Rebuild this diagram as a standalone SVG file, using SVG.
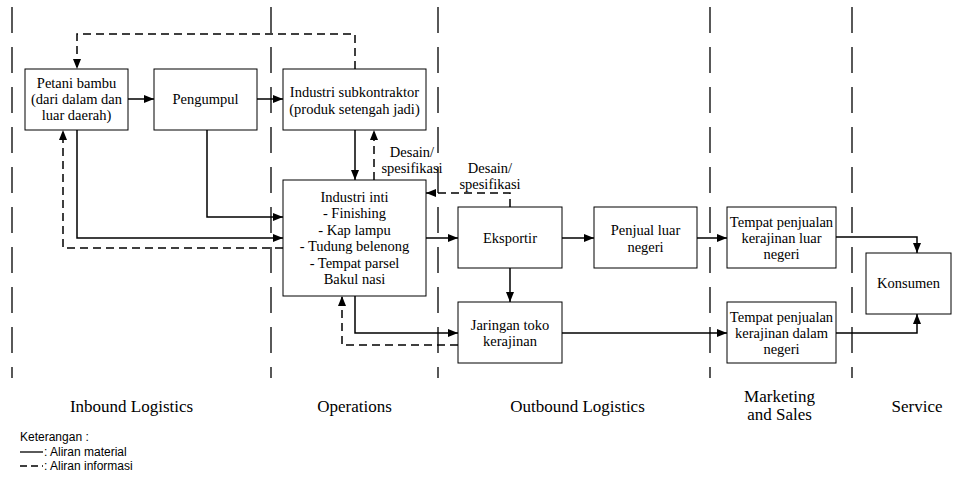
<svg xmlns="http://www.w3.org/2000/svg" width="958" height="479" viewBox="0 0 958 479">
<style>
.box{fill:#fff;stroke:#000;stroke-width:1}
.t{font-family:"Liberation Serif","Times New Roman",serif;font-size:14.5px;fill:#000;text-anchor:middle}
.lbl{font-family:"Liberation Serif","Times New Roman",serif;font-size:17px;fill:#000;text-anchor:middle}
.leg{font-family:"Liberation Sans",Arial,sans-serif;font-size:12px;fill:#000}
.div{stroke:#000;stroke-width:1.3;stroke-dasharray:26 14;fill:none}
.m{stroke:#000;stroke-width:1.5;fill:none}
.i{stroke:#000;stroke-width:1.5;fill:none;stroke-dasharray:8 5}
</style>
<defs>
<marker id="ah" markerUnits="userSpaceOnUse" markerWidth="11" markerHeight="9" refX="10" refY="4" orient="auto">
<path d="M0,0 L10,4 L0,8 Z" fill="#000"/>
</marker>
</defs>
<rect width="958" height="479" fill="#fff"/>
<g id="dividers">
<line class="div" x1="12" y1="7" x2="12" y2="378"/>
<line class="div" x1="271" y1="7" x2="271" y2="378"/>
<line class="div" x1="438" y1="7" x2="438" y2="378"/>
<line class="div" x1="710" y1="7" x2="710" y2="378"/>
<line class="div" x1="852" y1="7" x2="852" y2="378"/>
</g>
<g id="connectors">
<line class="m" x1="128" y1="99" x2="154" y2="99" marker-end="url(#ah)"/>
<line class="m" x1="257" y1="99" x2="283" y2="99" marker-end="url(#ah)"/>
<polyline class="m" points="207,130 207,217 283,217" marker-end="url(#ah)"/>
<polyline class="m" points="77,130 77,238 283,238" marker-end="url(#ah)"/>
<polyline class="i" points="283,248 63,248 63,130" marker-end="url(#ah)"/>
<polyline class="i" points="355,69 355,34 77,34 77,69" marker-end="url(#ah)"/>
<line class="m" x1="355" y1="130" x2="355" y2="180" marker-end="url(#ah)"/>
<line class="i" x1="374" y1="180" x2="374" y2="130" marker-end="url(#ah)"/>
<polyline class="i" points="510,207 510,193 426,193" marker-end="url(#ah)"/>
<line class="m" x1="426" y1="238" x2="458" y2="238" marker-end="url(#ah)"/>
<polyline class="m" points="355,296 355,333 458,333" marker-end="url(#ah)"/>
<polyline class="i" points="458,345 342,345 342,296" marker-end="url(#ah)"/>
<line class="m" x1="510" y1="268" x2="510" y2="302" marker-end="url(#ah)"/>
<line class="m" x1="562" y1="238" x2="594" y2="238" marker-end="url(#ah)"/>
<line class="m" x1="697" y1="238" x2="727" y2="238" marker-end="url(#ah)"/>
<line class="m" x1="562" y1="333" x2="727" y2="333" marker-end="url(#ah)"/>
<polyline class="m" points="836,237 917,237 917,253" marker-end="url(#ah)"/>
<polyline class="m" points="836,333 917,333 917,314" marker-end="url(#ah)"/>
<text class="t" x="412" y="157">Desain/</text>
<text class="t" x="412" y="173">spesifikasi</text>
<text class="t" x="490" y="173">Desain/</text>
<text class="t" x="490" y="189">spesifikasi</text>
</g>
<g id="petani">
<rect class="box" x="25" y="69" width="103" height="61"/>
<text class="t" x="76.5" y="88">Petani bambu</text>
<text class="t" x="76.5" y="104">(dari dalam dan</text>
<text class="t" x="76.5" y="120">luar daerah)</text>
</g>
<g id="pengumpul">
<rect class="box" x="154" y="69" width="103" height="61"/>
<text class="t" x="205.5" y="104">Pengumpul</text>
</g>
<g id="subkontraktor">
<rect class="box" x="283" y="69" width="143" height="61"/>
<text class="t" x="354.5" y="97">Industri subkontraktor</text>
<text class="t" x="354.5" y="114">(produk setengah jadi)</text>
</g>
<g id="inti">
<rect class="box" x="283" y="180" width="143" height="116"/>
<text class="t" x="354.5" y="202">Industri inti</text>
<text class="t" x="354.5" y="218">- Finishing</text>
<text class="t" x="354.5" y="235">- Kap lampu</text>
<text class="t" x="354.5" y="251">- Tudung belenong</text>
<text class="t" x="354.5" y="268">- Tempat parsel</text>
<text class="t" x="354.5" y="284">Bakul nasi</text>
</g>
<g id="eksportir">
<rect class="box" x="458" y="207" width="104" height="61"/>
<text class="t" x="510" y="243">Eksportir</text>
</g>
<g id="penjual">
<rect class="box" x="594" y="207" width="103" height="61"/>
<text class="t" x="645.5" y="235">Penjual luar</text>
<text class="t" x="645.5" y="252">negeri</text>
</g>
<g id="tempat-luar">
<rect class="box" x="727" y="207" width="109" height="61"/>
<text class="t" x="781.5" y="227">Tempat penjualan</text>
<text class="t" x="781.5" y="243">kerajinan luar</text>
<text class="t" x="781.5" y="259">negeri</text>
</g>
<g id="konsumen">
<rect class="box" x="866" y="253" width="85" height="61"/>
<text class="t" x="908.5" y="288">Konsumen</text>
</g>
<g id="jaringan">
<rect class="box" x="458" y="302" width="104" height="61"/>
<text class="t" x="510" y="330">Jaringan toko</text>
<text class="t" x="510" y="346">kerajinan</text>
</g>
<g id="tempat-dalam">
<rect class="box" x="727" y="302" width="109" height="61"/>
<text class="t" x="781.5" y="322">Tempat penjualan</text>
<text class="t" x="781.5" y="338">kerajinan dalam</text>
<text class="t" x="781.5" y="354">negeri</text>
</g>
<g id="labels">
<text class="lbl" x="131.5" y="412">Inbound Logistics</text>
<text class="lbl" x="354.5" y="412">Operations</text>
<text class="lbl" x="577.5" y="412">Outbound Logistics</text>
<text class="lbl" x="779.5" y="402">Marketing</text>
<text class="lbl" x="779.5" y="420">and Sales</text>
<text class="lbl" x="917" y="412">Service</text>
</g>
<g id="legend">
<text class="leg" x="20" y="441">Keterangan :</text>
<line x1="20" y1="452" x2="43" y2="452" stroke="#000" stroke-width="1.3"/>
<text class="leg" x="44" y="456">: Aliran material</text>
<line x1="20" y1="466" x2="43" y2="466" stroke="#000" stroke-width="1.3" stroke-dasharray="7 4"/>
<text class="leg" x="44" y="470">: Aliran informasi</text>
</g>
</svg>
